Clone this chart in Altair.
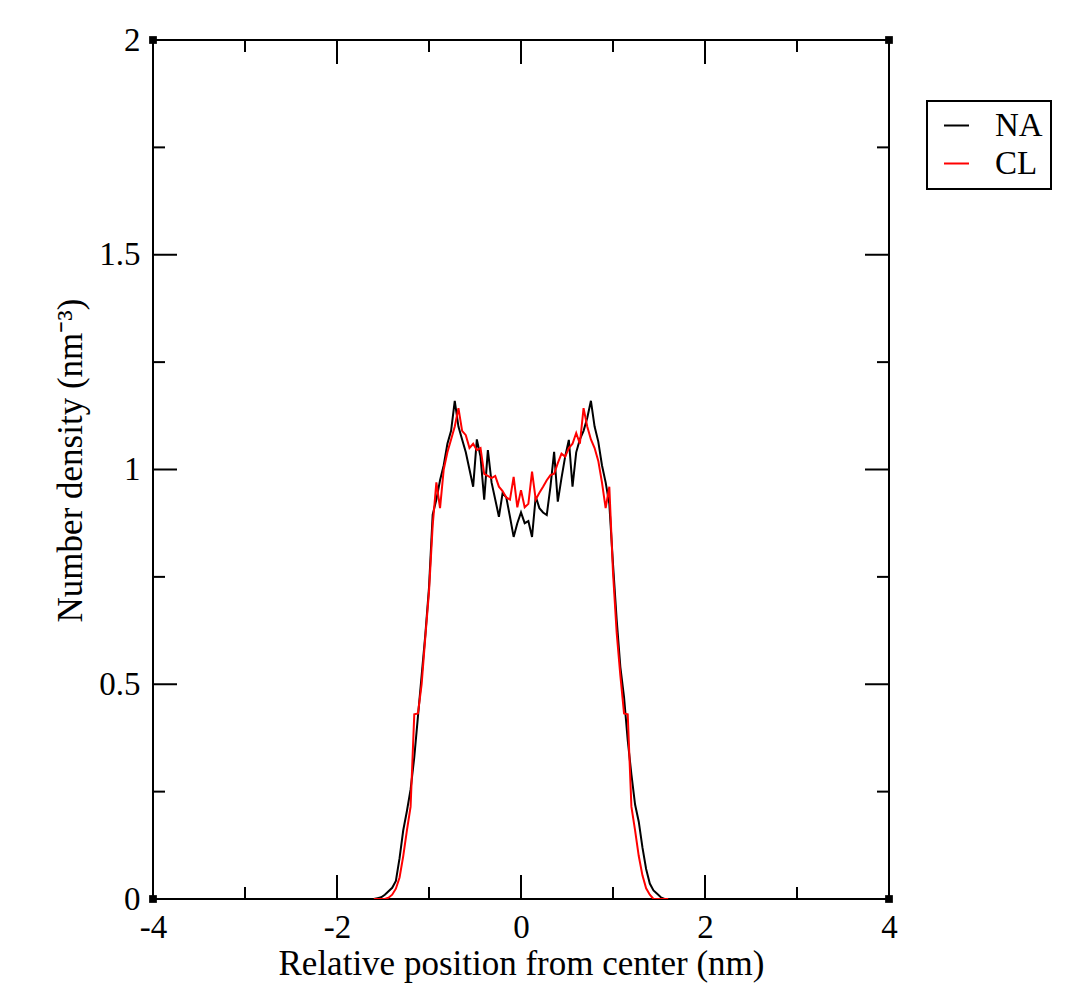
import altair as alt
import numpy as np
import pandas as pd

# bin centres (nm)
positions = [round(v, 2) for v in np.arange(-1.60, 1.601, 0.04)]

na_density = [
    0.000, 0.002, 0.004, 0.010, 0.018, 0.026, 0.042, 0.095, 0.160, 0.205,
    0.255, 0.330, 0.425, 0.520, 0.615, 0.725, 0.895, 0.930, 0.975, 1.010,
    1.060, 1.090, 1.160, 1.100, 1.070, 1.040, 1.000, 0.960, 1.070, 1.030,
    0.930, 1.045, 0.970, 0.930, 0.890, 0.945, 0.935, 0.890, 0.843, 0.875,
    0.900, 0.875, 0.880, 0.843, 0.937, 0.910, 0.900, 0.894, 0.960, 1.041,
    0.925, 0.980, 1.030, 1.069, 0.960, 1.040, 1.070, 1.090, 1.120, 1.160,
    1.100, 1.065, 1.010, 0.970, 0.920, 0.780, 0.650, 0.540, 0.470, 0.370,
    0.290, 0.220, 0.180, 0.120, 0.070, 0.036, 0.020, 0.012, 0.004, 0.000,
    0.000,
]

cl_density = [
    0.000, 0.000, 0.000, 0.000, 0.003, 0.010, 0.024, 0.050, 0.100, 0.160,
    0.215, 0.430, 0.432, 0.500, 0.610, 0.715, 0.870, 0.970, 0.910, 1.000,
    1.040, 1.070, 1.100, 1.143, 1.090, 1.080, 1.050, 1.060, 1.045, 1.050,
    0.990, 0.985, 0.980, 0.985, 0.960, 0.950, 0.935, 0.930, 0.983, 0.912,
    0.952, 0.912, 0.920, 0.995, 0.930, 0.946, 0.960, 0.975, 0.987, 0.990,
    1.015, 1.037, 1.030, 1.050, 1.060, 1.085, 1.060, 1.143, 1.100, 1.070,
    1.050, 1.020, 0.970, 0.910, 0.960, 0.760, 0.620, 0.520, 0.432, 0.430,
    0.215, 0.160, 0.100, 0.055, 0.025, 0.010, 0.000, 0.000, 0.000, 0.000,
    0.000,
]

series_names = ["NA", "CL"]
series_colors = ["black", "red"]

x_major = [-4, -2, 0, 2, 4]
x_minor = [-3, -1, 1, 3]
y_major = [0, 0.5, 1, 1.5, 2]
y_minor = [0.25, 0.75, 1.25, 1.75]

W, H = 736, 859
FONT = "Liberation Serif, Times New Roman, serif"

df_na = pd.DataFrame({"x": positions, "y": na_density, "series": "NA"})
df_cl = pd.DataFrame({"x": positions, "y": cl_density, "series": "CL"})

xscale = alt.Scale(domain=[-4, 4], nice=False, zero=False)
yscale = alt.Scale(domain=[0, 2], nice=False, zero=False)
cscale = alt.Scale(domain=series_names, range=series_colors)

xaxis = alt.Axis(values=x_major, labelExpr="toString(datum.value)", tickSize=0,
                 domain=False, grid=False, labelFont=FONT, labelFontSize=33,
                 labelColor="black", labelPadding=12, labelFlush=False,
                 labelOverlap=False, title="Relative position from center (nm)",
                 titleFont=FONT, titleFontSize=35, titleFontWeight="normal",
                 titleColor="black", titlePadding=2)
yaxis = alt.Axis(values=y_major, labelExpr="toString(datum.value)", tickSize=0,
                 domain=False, grid=False, labelFont=FONT, labelFontSize=33,
                 labelColor="black", labelPadding=13, labelFlush=False,
                 labelOverlap=False, title="Number density (nm⁻³)",
                 titleFont=FONT, titleFontSize=35, titleFontWeight="normal",
                 titleColor="black", titlePadding=10, titleY=420)

legend = alt.Legend(title=None, orient="none", legendX=774, legendY=61,
                    fillColor="white", strokeColor="black", padding=8,
                    symbolType="stroke", symbolSize=625, symbolStrokeWidth=2,
                    symbolOffset=5,
                    labelFont=FONT, labelFontSize=33, labelColor="black",
                    labelOffset=22, rowPadding=4)


def X(field="x"):
    return alt.X(f"{field}:Q", scale=xscale, axis=xaxis)


def Y(field="y"):
    return alt.Y(f"{field}:Q", scale=yscale, axis=yaxis)


def line_layer(df):
    return alt.Chart(df).mark_line(strokeWidth=2, clip=True).encode(
        x=X(), y=Y(),
        color=alt.Color("series:N", scale=cscale, legend=legend),
    )


def xticks(vals, length):
    d = pd.DataFrame({"x": vals})
    base = alt.Chart(d).mark_rule(color="black", strokeWidth=2)
    bottom = base.encode(x=X(), y=alt.value(H), y2=alt.value(H - length))
    top = base.encode(x=X(), y=alt.value(0), y2=alt.value(length))
    return [bottom, top]


def yticks(vals, length):
    d = pd.DataFrame({"y": vals})
    base = alt.Chart(d).mark_rule(color="black", strokeWidth=2)
    left = base.encode(y=Y(), x=alt.value(0), x2=alt.value(length))
    right = base.encode(y=Y(), x=alt.value(W), x2=alt.value(W - length))
    return [left, right]


corners = pd.DataFrame({"x": [-4, 4, -4, 4], "y": [0, 0, 2, 2]})
corner_layer = alt.Chart(corners).mark_square(size=60, color="black", opacity=1, clip=False).encode(
    x=X(), y=Y(),
)

layers = [line_layer(df_na), line_layer(df_cl)]
layers += xticks(x_major, 24) + xticks(x_minor, 12)
layers += yticks(y_major, 24) + yticks(y_minor, 12)
layers.append(corner_layer)

chart = alt.layer(*layers).properties(
    width=W, height=H,
    autosize=alt.AutoSizeParams(type="none"),
    padding={"left": 145, "top": 32, "right": 183, "bottom": 90},
    background="white",
).configure_view(stroke="black", strokeWidth=2).configure_legend(strokeWidth=2)

chart.save("out.html", embed_options={"renderer": "svg", "actions": False})
